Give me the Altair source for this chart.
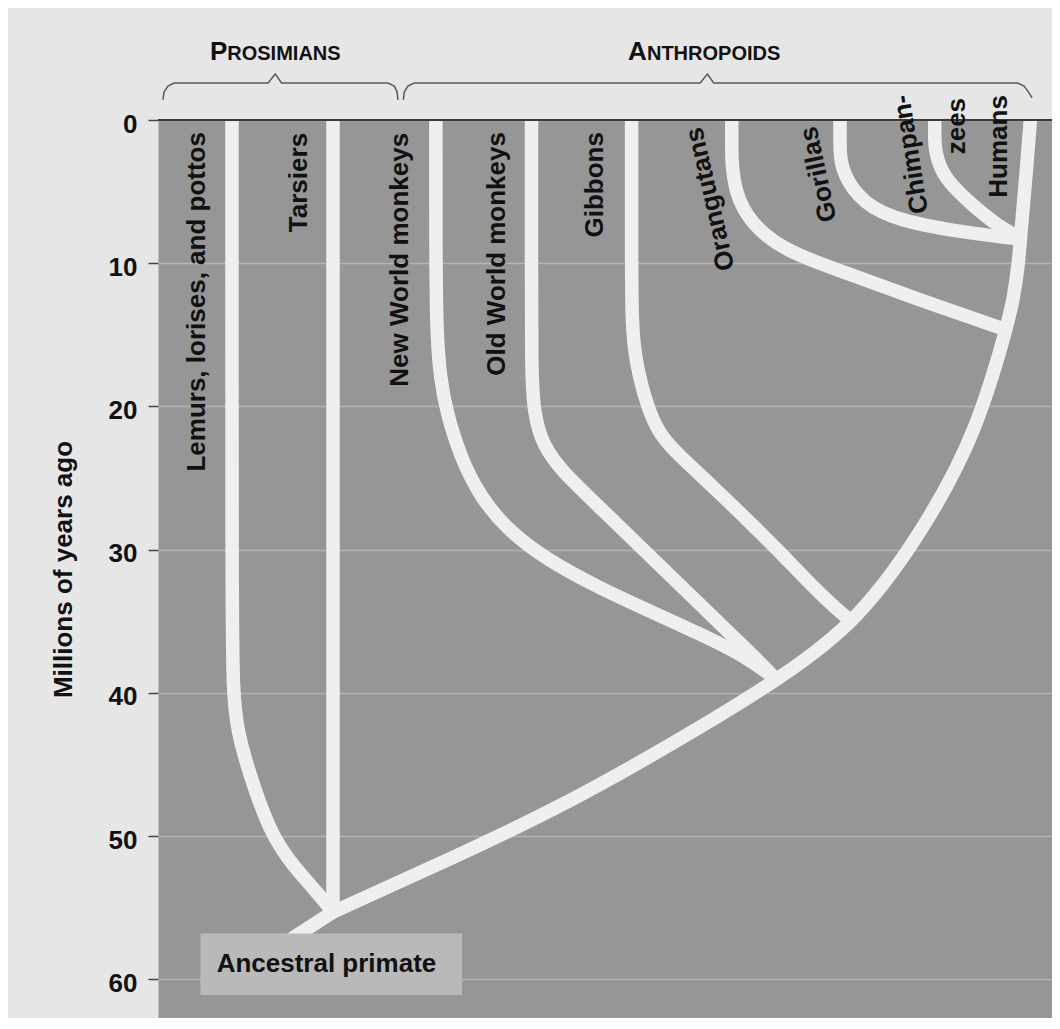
import altair as alt
import pandas as pd

# ---- data (x: horizontal layout units across the panel, y: millions of years ago) ----
lemurs_x = [8.2, 8.2, 8.3, 8.8, 9.9, 12.4, 15.0, 17.6, 19.4]
lemurs_y = [0, 33.5, 40.0, 42.6, 45.2, 49.8, 52.1, 53.9, 55.3]
tarsiers_x = [19.4, 19.4]
tarsiers_y = [0, 55.3]
root_x = [19.4, 14.0]
root_y = [55.3, 57.5]
trunk_x = [19.4, 32.4, 46.2, 61.5, 68.6, 77.6, 85.6, 90.8, 94.0, 94.8, 95.4, 95.6, 96.3, 96.7]
trunk_y = [55.3, 51.6, 47.5, 41.9, 39.1, 35.1, 27.9, 21.6, 14.7, 12.6, 10.0, 8.2, 3.3, 0]
nwm_x = [30.8, 30.8, 30.9, 31.3, 32.0, 33.5, 35.7, 38.7, 43.1, 48.7, 54.2, 59.8, 65.3, 68.4]
nwm_y = [0, 10.0, 15.0, 18.1, 20.4, 23.5, 26.3, 28.6, 30.7, 32.6, 34.2, 35.8, 37.5, 39.0]
owm_x = [41.4, 41.4, 41.4, 41.6, 42.7, 44.9, 48.4, 57.9, 67.3, 68.4]
owm_y = [0, 10.0, 17.0, 20.4, 22.8, 24.6, 26.7, 32.5, 38.2, 39.0]
gib_x = [52.5, 52.5, 52.5, 53.0, 54.2, 55.7, 57.9, 61.5, 65.3, 69.0, 72.6, 76.0, 77.0]
gib_y = [0, 8.0, 14.5, 17.0, 20.0, 22.1, 23.5, 25.6, 27.9, 30.2, 32.6, 34.6, 35.0]
ora_x = [63.6, 63.6, 63.6, 64.2, 66.4, 70.1, 76.4, 83.7, 93.8]
ora_y = [0, 1.5, 3.3, 5.6, 7.7, 9.3, 10.7, 12.4, 14.6]
gor_x = [75.6, 75.6, 75.6, 77.5, 80.8, 87.5, 95.4]
gor_y = [0, 1.5, 3.3, 5.4, 6.8, 7.7, 8.3]
chi_x = [86.1, 86.1, 86.1, 87.0, 90.0, 93.3, 95.5]
chi_y = [0, 1.0, 2.1, 4.0, 5.8, 7.5, 8.2]

label_text = ["Lemurs, lorises, and pottos", "Tarsiers", "New World monkeys",
              "Old World monkeys", "Gibbons", "Orangutans", "Gorillas",
              "Chimpan-", "zees", "Humans"]
label_x = [4.3, 15.6, 26.8, 37.6, 48.4, 59.4, 72.1, 82.4, 88.6, 93.2]
label_y = [0.84, 0.9, 0.9, 0.84, 0.84, 0.56, 0.49, -1.74, -1.54, -1.74]
label_angle = [270, 270, 270, 270, 270, 257, 258, 261, 270, 270]

group_initial = ["P", "A"]
group_rest = ["ROSIMIANS", "NTHROPOIDS"]
group_x = [5.76, 52.1]
group_rest_x = [7.68, 54.2]
group_y = [-4.19, -4.19]

brace_pro_x = [0.55, 0.67, 1.11, 1.77, 12.2, 13.0, 13.7, 25.5, 26.2, 26.5, 26.6]
brace_pro_y = [-1.40, -1.95, -2.37, -2.58, -2.58, -3.21, -2.58, -2.58, -2.37, -1.95, -1.40]
brace_ant_x = [27.2, 27.3, 27.7, 28.4, 60.1, 60.9, 61.6, 95.3, 96.0, 96.5, 96.9]
brace_ant_y = [-1.40, -1.95, -2.37, -2.58, -2.58, -3.21, -2.58, -2.58, -2.37, -1.95, -1.54]

box_x = [4.7, 33.7]
box_y = [56.8, 61.1]
box_text = "Ancestral primate"
box_text_x = 6.5
box_text_y = 59.5

y_ticks = [0, 10, 20, 30, 40, 50, 60]
Y_DOMAIN = [0, 62.7]
X_DOMAIN = [0, 99.1]

# ---- tables ----
paths = {
    "lemurs": (lemurs_x, lemurs_y), "tarsiers": (tarsiers_x, tarsiers_y),
    "root": (root_x, root_y), "trunk": (trunk_x, trunk_y),
    "nwm": (nwm_x, nwm_y), "owm": (owm_x, owm_y), "gibbons": (gib_x, gib_y),
    "orangutans": (ora_x, ora_y), "gorillas": (gor_x, gor_y), "chimps": (chi_x, chi_y),
}
rows = []
for name, (xs_, ys_) in paths.items():
    for i, (a, b) in enumerate(zip(xs_, ys_)):
        rows.append({"lineage": name, "i": i, "x": a, "y": b})
lines_df = pd.DataFrame(rows)

brows = []
for name, (xs_, ys_) in {"pro": (brace_pro_x, brace_pro_y), "ant": (brace_ant_x, brace_ant_y)}.items():
    for i, (a, b) in enumerate(zip(xs_, ys_)):
        brows.append({"brace": name, "i": i, "x": a, "y": b})
brace_df = pd.DataFrame(brows)

labels_df = pd.DataFrame({"text": label_text, "x": label_x, "y": label_y, "angle": label_angle})
groups_df = pd.DataFrame({"init": group_initial, "rest": group_rest, "x": group_x,
                          "xr": group_rest_x, "y": group_y})
box_df = pd.DataFrame({"x": [box_x[0]], "x2": [box_x[1]], "y": [box_y[0]], "y2": [box_y[1]]})
box_lab_df = pd.DataFrame({"x": [box_text_x], "y": [box_text_y], "text": [box_text]})
top_df = pd.DataFrame({"x": [X_DOMAIN[0]], "x2": [X_DOMAIN[1]], "y": [0]})

FONT = "Liberation Sans"
xs = alt.Scale(domain=X_DOMAIN, nice=False, zero=False)
ys = alt.Scale(domain=Y_DOMAIN, nice=False, zero=False, reverse=True)

yaxis = alt.Axis(
    values=y_ticks, grid=True, gridColor="#b4b4b4", gridWidth=1.5, domain=False,
    tickColor="#444444", tickSize=10, tickWidth=1.5,
    labelFont=FONT, labelFontWeight="bold", labelFontSize=26, labelColor="#111111",
    labelPadding=11, labelOffset=4,
    title="Millions of years ago", titleFont=FONT, titleFontWeight="bold",
    titleFontSize=26, titleColor="#111111", titleAngle=270, titleX=-95, titleY=449,
    titleAlign="center", titleBaseline="middle",
)

X = alt.X("x:Q", scale=xs, axis=None)
Y = alt.Y("y:Q", scale=ys, axis=yaxis)

tree = alt.Chart(lines_df).mark_line(
    color="#efefef", strokeWidth=13.5, interpolate="basis",
    strokeCap="butt", strokeJoin="round"
).encode(x=X, y=Y, detail="lineage:N", order="i:Q")

top_rule = alt.Chart(top_df).mark_rule(color="#3a3a3a", strokeWidth=2).encode(
    x=X, x2="x2:Q", y=Y,
)

box = alt.Chart(box_df).mark_rect(color="#b9b9b9").encode(
    x=X, x2="x2:Q", y=Y, y2="y2:Q",
)
box_label = alt.Chart(box_lab_df).mark_text(
    align="left", baseline="alphabetic", font=FONT, fontWeight="bold",
    fontSize=26, color="#111111"
).encode(x=X, y=Y, text="text:N")

labels = alt.Chart(labels_df).mark_text(
    align="right", baseline="middle", font=FONT, fontWeight="bold",
    fontSize=26, color="#111111"
).encode(x=X, y=Y, text="text:N", angle=alt.Angle("angle:Q", scale=None))

braces = alt.Chart(brace_df).mark_line(color="#5a5a5a", strokeWidth=1.5).encode(
    x=X, y=Y, detail="brace:N", order="i:Q",
)

g_init = alt.Chart(groups_df).mark_text(
    align="left", baseline="alphabetic", font=FONT, fontWeight="bold",
    fontSize=26, color="#111111"
).encode(x=X, y=Y, text="init:N")
g_rest = alt.Chart(groups_df).mark_text(
    align="left", baseline="alphabetic", font=FONT, fontWeight="bold",
    fontSize=20, color="#111111"
).encode(x=alt.X("xr:Q", scale=xs, axis=None), y=Y, text="rest:N")

chart = alt.layer(
    tree, top_rule, box, box_label, labels, braces, g_init, g_rest
).properties(
    width=894, height=898,
    autosize=alt.AutoSizeParams(type="none"),
    padding={"left": 150, "top": 112, "right": 0, "bottom": 0},
    background="#e6e6e6",
).configure_view(
    fill="#969696", stroke="transparent"
)

chart.save("out.html", embed_options={"renderer": "svg", "actions": False})
